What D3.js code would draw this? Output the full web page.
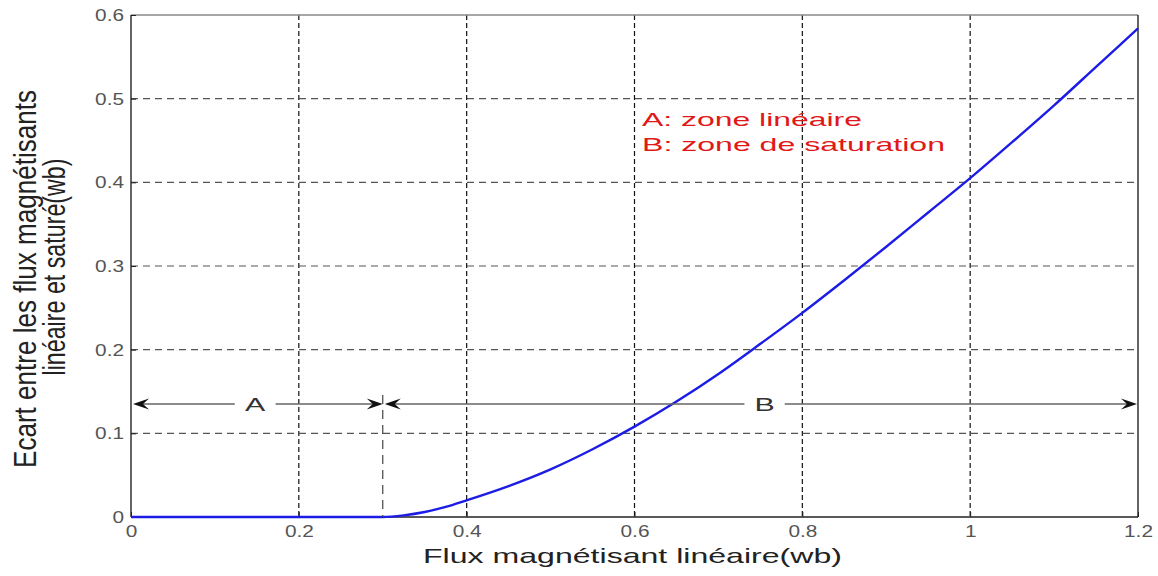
<!DOCTYPE html>
<html>
<head>
<meta charset="utf-8">
<script src="https://cdn.jsdelivr.net/npm/d3@7"></script>
<style>
  html, body { margin: 0; padding: 0; background: #fff; }
  svg { display: block; font-family: "Liberation Sans", Arial, sans-serif; }
</style>
</head>
<body>
<svg id="chart" width="1158" height="576"></svg>
<script>
// Linear magnetising flux (wb) and the gap between linear and saturated flux (wb)
const fluxLinear = [0, 0.1, 0.2, 0.3, 0.325, 0.35, 0.375, 0.4, 0.45, 0.5, 0.55, 0.6,
                    0.65, 0.7, 0.75, 0.8, 0.85, 0.9, 0.95, 1.0, 1.05, 1.1, 1.15, 1.2];
const fluxGap    = [0, 0, 0, 0, 0.002, 0.006, 0.012, 0.02, 0.037, 0.057, 0.081, 0.108,
                    0.138, 0.171, 0.207, 0.244, 0.283, 0.323, 0.364, 0.405, 0.448, 0.492, 0.538, 0.584];

const xTicks = [0, 0.2, 0.4, 0.6, 0.8, 1, 1.2];
const yTicks = [0, 0.1, 0.2, 0.3, 0.4, 0.5, 0.6];

// Zone boundary and the level of the zone arrows
const zoneLimit = 0.3;
const arrowLevel = 0.135;
const zoneA = { label: "A", from: 0, to: zoneLimit, at: 0.148 };
const zoneB = { label: "B", from: zoneLimit, to: 1.2, at: 0.755 };

const legendLines = ["A: zone linéaire", "B: zone de saturation"];
const xTitle = "Flux magnétisant linéaire(wb)";
const yTitle = ["Ecart entre les flux magnétisants", "linéaire et saturé(wb)"];

const svg = d3.select("#chart");
const L = 131, R = 1138, T = 15, B = 517;

const x = d3.scaleLinear().domain([0, 1.2]).range([L, R]);
const y = d3.scaleLinear().domain([0, 0.6]).range([B, T]);

// stretch a text element horizontally by factor k
function widen(sel, k) {
  sel.each(function () {
    const n = this.getComputedTextLength();
    d3.select(this).attr("textLength", n * k).attr("lengthAdjust", "spacingAndGlyphs");
  });
}

// grid
svg.append("g").selectAll("line").data(xTicks.filter(t => t > 0 && t < 1.2)).join("line")
  .attr("x1", d => x(d)).attr("x2", d => x(d)).attr("y1", T).attr("y2", B)
  .attr("stroke", "#111").attr("stroke-width", 1.2).attr("stroke-dasharray", "5,3");
svg.append("g").selectAll("line").data(yTicks.filter(t => t > 0 && t < 0.6)).join("line")
  .attr("x1", L).attr("x2", R).attr("y1", d => y(d)).attr("y2", d => y(d))
  .attr("stroke", "#555").attr("stroke-width", 1.2).attr("stroke-dasharray", "7,5");

// axes box
svg.append("line").attr("x1", L).attr("x2", R).attr("y1", T).attr("y2", T).attr("stroke", "#888").attr("stroke-width", 1.3);
svg.append("line").attr("x1", L).attr("x2", R).attr("y1", B).attr("y2", B).attr("stroke", "#222").attr("stroke-width", 1.3);
svg.append("line").attr("x1", L).attr("x2", L).attr("y1", T).attr("y2", B).attr("stroke", "#111").attr("stroke-width", 1.3);
svg.append("line").attr("x1", R).attr("x2", R).attr("y1", T).attr("y2", B).attr("stroke", "#111").attr("stroke-width", 1.3);

// axis ticks and labels
const xAxis = svg.append("g").attr("transform", `translate(0,${B})`)
  .call(d3.axisBottom(x).tickValues(xTicks).tickFormat(d3.format("~g")).tickSizeInner(-5).tickSizeOuter(0).tickPadding(9));
const yAxis = svg.append("g").attr("transform", `translate(${L},0)`)
  .call(d3.axisLeft(y).tickValues(yTicks).tickFormat(d3.format("~g")).tickSizeInner(-5).tickSizeOuter(0).tickPadding(7));
[xAxis, yAxis].forEach(g => {
  g.select(".domain").remove();
  g.selectAll(".tick line").attr("stroke", "#222");
  g.selectAll(".tick text").attr("fill", "#555").style("font-size", "16px")
    .style("font-family", "'Liberation Sans', Arial, sans-serif");
});
yAxis.selectAll(".tick text").attr("dy", "0.35em");
widen(xAxis.selectAll(".tick text"), 1.3);
widen(yAxis.selectAll(".tick text"), 1.3);

// curve
const pts = fluxLinear.map((v, i) => [v, fluxGap[i]]);
svg.append("path").datum(pts)
  .attr("d", d3.line().x(d => x(d[0])).y(d => y(d[1])).curve(d3.curveMonotoneX))
  .attr("fill", "none").attr("stroke", "#1c1ce6").attr("stroke-width", 2.4);

// zone boundary marker
svg.append("line")
  .attr("x1", x(zoneLimit)).attr("x2", x(zoneLimit))
  .attr("y1", y(arrowLevel) - 9).attr("y2", y(0))
  .attr("stroke", "#444").attr("stroke-width", 1.2).attr("stroke-dasharray", "9,6");

// zone arrows
function arrowHead(tipX, tipY, dir) {
  const len = 16, half = 5.5, notch = 10;
  const p = [[tipX, tipY], [tipX - dir * len, tipY - half], [tipX - dir * notch, tipY], [tipX - dir * len, tipY + half]];
  return "M" + p.map(q => q.join(",")).join("L") + "Z";
}
const ay = y(arrowLevel);
[zoneA, zoneB].forEach((z, i) => {
  const x0 = x(z.from) + 2;
  const x1 = x(z.to) - (i === 0 ? 0 : 1);
  const t = svg.append("text").attr("x", x(z.at)).attr("y", ay + 7)
    .attr("text-anchor", "middle").attr("fill", "#333")
    .style("font-size", "19px").text(z.label);
  widen(t, 1.6);
  const bb = t.node().getBBox();
  const gap = 10;
  svg.append("line").attr("x1", x0 + 6).attr("x2", x(z.at) - bb.width / 2 - gap)
    .attr("y1", ay).attr("y2", ay).attr("stroke", "#666").attr("stroke-width", 1.5);
  svg.append("line").attr("x1", x(z.at) + bb.width / 2 + gap).attr("x2", x1 - 6)
    .attr("y1", ay).attr("y2", ay).attr("stroke", "#666").attr("stroke-width", 1.5);
  svg.append("path").attr("d", arrowHead(x0, ay, -1)).attr("fill", "#111");
  svg.append("path").attr("d", arrowHead(x1, ay, 1)).attr("fill", "#111");
});

// annotation
const legendWidths = [220, 303];
legendLines.forEach((s, i) => {
  svg.append("text").attr("x", 642).attr("y", 126 + i * 25)
    .attr("fill", "#e01818").style("font-size", "19px")
    .attr("textLength", legendWidths[i]).attr("lengthAdjust", "spacingAndGlyphs")
    .text(s);
});

// axis titles
svg.append("text").attr("x", 423).attr("y", 563).attr("fill", "#222")
  .style("font-size", "21px")
  .attr("textLength", 419).attr("lengthAdjust", "spacingAndGlyphs")
  .text(xTitle);

yTitle.forEach((s, i) => {
  const cx = i === 0 ? 36 : 65, cy = i === 0 ? 279 : 267;
  const len = i === 0 ? 378 : 217;
  svg.append("text")
    .attr("transform", `translate(${cx},${cy}) scale(1.25,1) rotate(-90)`)
    .attr("text-anchor", "middle").attr("fill", "#222")
    .style("font-size", "25px")
    .attr("textLength", len).attr("lengthAdjust", "spacingAndGlyphs")
    .text(s);
});
</script>
</body>
</html>
